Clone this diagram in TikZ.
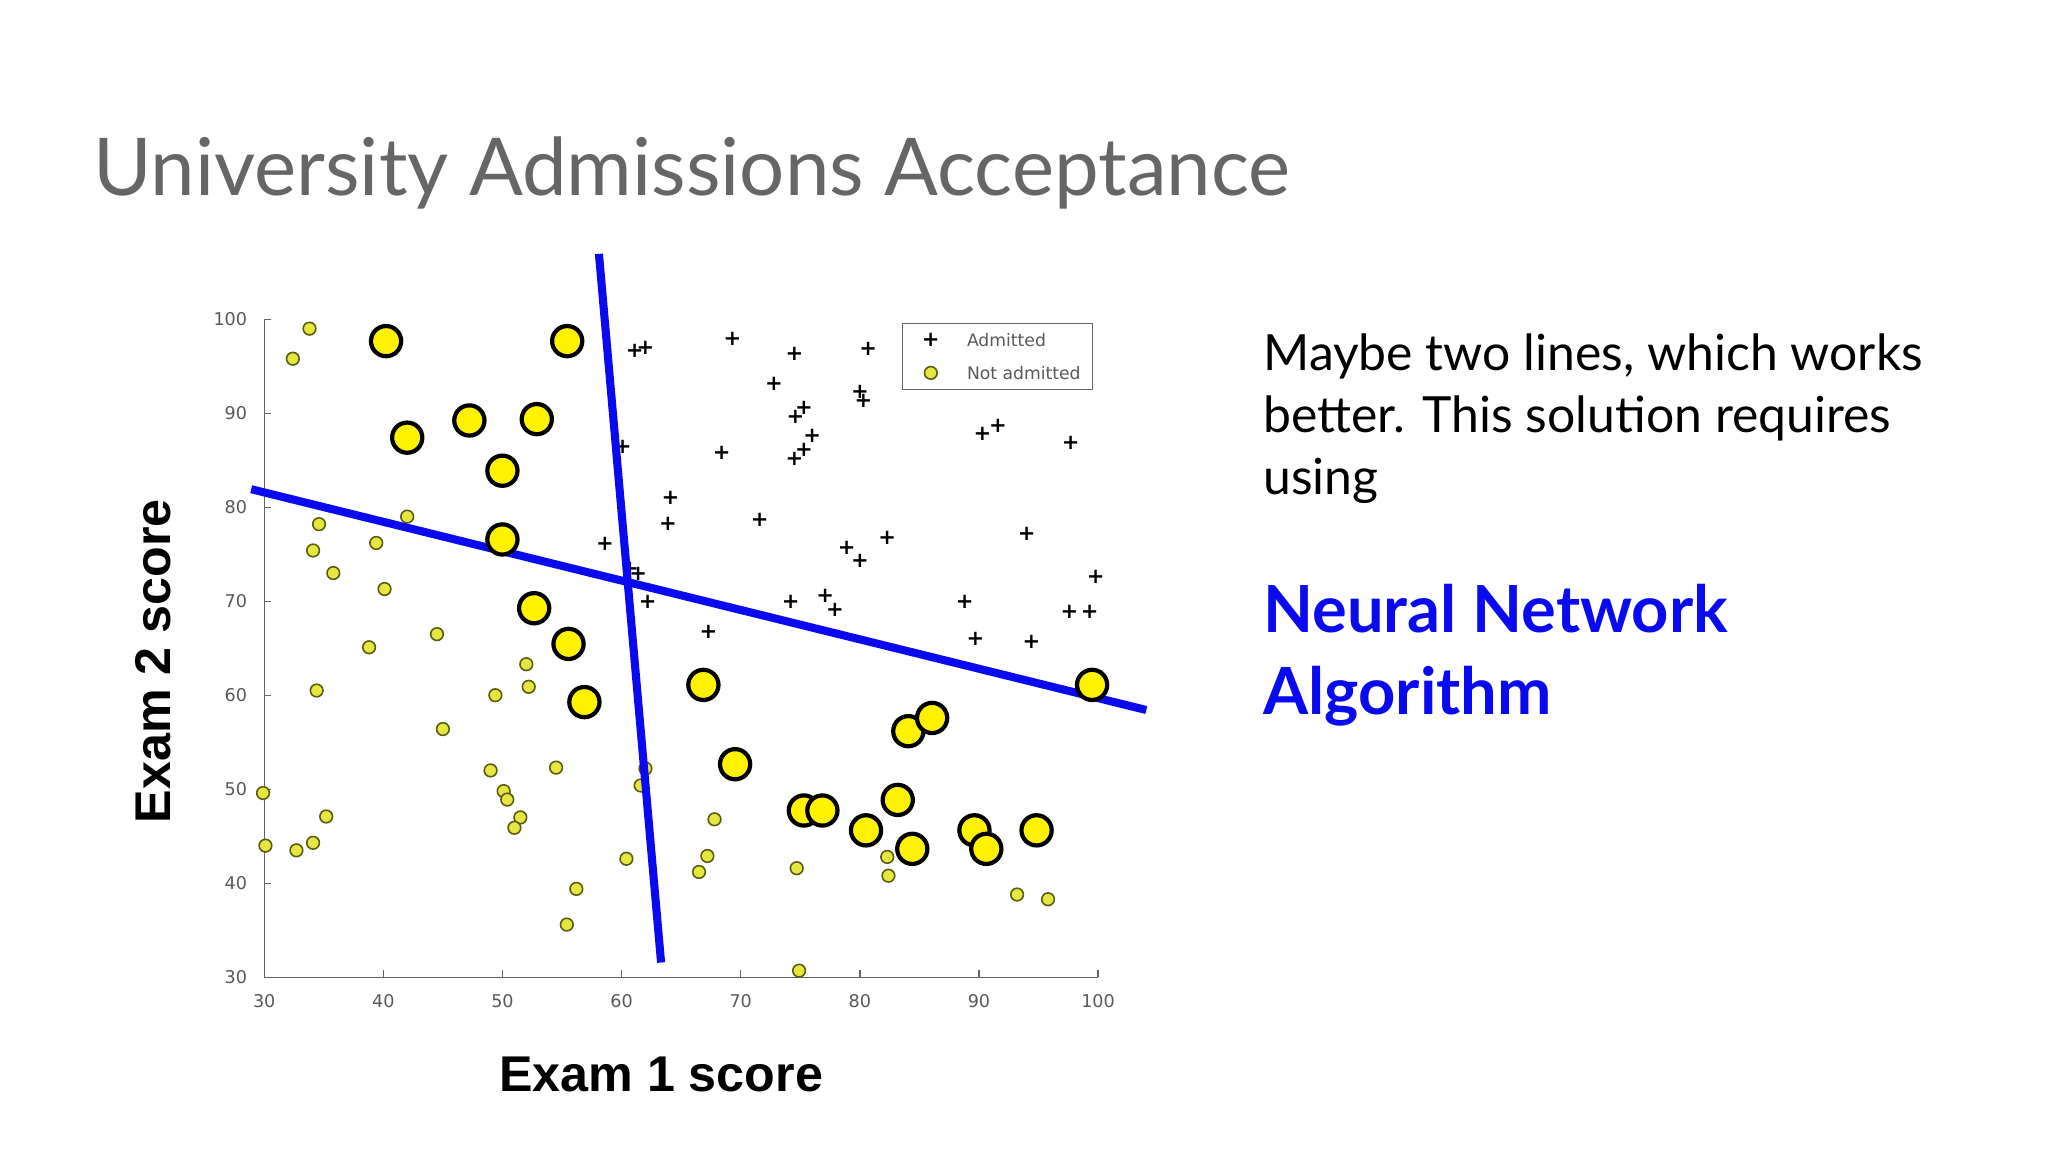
\documentclass[tikz,border=0pt]{standalone}
\usepackage{fontspec}
\setmainfont{Lato}
\newfontfamily\arialf{Liberation Sans}
\newfontfamily\tickf{DejaVu Sans}
\definecolor{lineblue}{HTML}{0A0AF0}
\definecolor{titlegray}{HTML}{666666}
\definecolor{smallyel}{HTML}{E6E640}
\definecolor{smallrim}{HTML}{5A5A10}
\begin{document}
\begin{tikzpicture}[x=0.013222cm,y=-0.013222cm]
\tikzset{
 small/.style={circle,draw=smallrim,fill=smallyel,line width=0.45pt,inner sep=0pt,minimum size=3.6pt},
 big/.style={circle,draw=black,fill=yellow,line width=1.2pt,inner sep=0pt,minimum size=8.6pt},
 plusm/.style={inner sep=0pt,font=\tickf\fontsize{6}{6}\selectfont\bfseries},
 tick/.style={font=\tickf\fontsize{5}{5}\selectfont,text=black!65},
 sep/.style={draw=lineblue,line width=2.3pt}
}
\fill[white] (0,0) rectangle (1549,871.3);
\useasboundingbox (0,0) rectangle (1549,871.3);
\node[anchor=base west,inner sep=0pt,text=titlegray,font=\fontsize{22.7}{26}\selectfont] (title) at (70,148) {University Admissions Acceptance};
% data scope
\begin{scope}[shift={(-70.42,952.4)},x=0.11918cm,y=0.09406cm]
\draw[black!60,line width=0.4pt] (30,100) coordinate (ytop) -- (30,30) coordinate (orig) -- (100,30) coordinate (xr);
\foreach \v in {30,40,...,100}{
 \draw[black!60,line width=0.4pt] (\v,30) -- (\v,30.8);
 \node[tick,anchor=north] (xt\v) at (\v,29.5) {\v};
 \draw[black!60,line width=0.4pt] (30,\v) -- (30.6,\v);
 \node[tick,anchor=east] (yt\v) at (29.6,\v) {\v};
}
\foreach[count=\i] \a/\b in {33.8/99,32.4/95.8,34.6/78.2,34.1/75.4,35.8/73,39.4/76.2,40.1/71.3,42/79,38.8/65.1,44.5/66.5,34.4/60.5,45/56.4,49.4/60,52/63.3,52.2/60.9,49/52,50.1/49.8,50.4/48.9,51.5/47,51/45.9,54.5/52.3,29.9/49.6,35.2/47.1,30.1/44,32.7/43.5,34.1/44.3,56.2/39.4,55.4/35.6,60.4/42.6,62/52.2,61.6/50.4,67.8/46.8,67.2/42.9,66.5/41.2,74.7/41.6,74.9/30.7,82.3/42.8,82.4/40.8,93.2/38.8,95.8/38.3}
 \node[small] (s\i) at (\a,\b) {};
\foreach[count=\i] \a/\b in {69.3/97.9,61.1/96.6,62/96.9,74.5/96.3,80.7/96.8,72.8/93.1,80/92.3,80.3/91.3,75.3/90.6,74.6/89.6,76/87.6,75.3/86.1,74.5/85.1,60.1/86.4,68.4/85.8,90.3/87.8,91.6/88.7,97.7/86.8,64.1/81,63.9/78.2,71.6/78.6,94/77.2,58.6/76.1,78.9/75.7,80/74.3,82.3/76.7,99.8/72.6,60.7/73.4,61.4/72.9,62.2/69.9,74.2/69.9,77.1/70.6,77.9/69.1,88.8/69.9,97.6/68.9,99.3/68.9,67.3/66.7,89.7/66,94.4/65.7}
 \node[plusm] (p\i) at (\a,\b) {+};
\end{scope}
% legend
\node[draw=black!60,line width=0.4pt,fill=white,minimum width=1.904cm,minimum height=0.661cm,anchor=north west,inner sep=0pt] (legend) at (682,244) {};
\node[plusm] (lp) at (704,257) {+};
\node[small] (lc) at (704,282) {};
\node[tick,anchor=west,font=\tickf\fontsize{4.9}{5}\selectfont] (la) at (722,257) {Admitted};
\node[tick,anchor=west,font=\tickf\fontsize{4.9}{5}\selectfont] (lb) at (722,282) {Not admitted};
% separating lines
\coordinate (a1) at (453,192); \coordinate (a2) at (500,728);
\coordinate (b1) at (190,370); \coordinate (b2) at (867,537);
\draw[sep] (a1) -- (a2);
\draw[sep] (b1) -- (b2);
% highlighted points
\foreach[count=\i] \a/\b in {292/258,429/258,308/331,355/318,406/317,380/356,380/408,404/460,430/487,442/531,532/518,556/578,608/613,622/613,655/628,679/605,687/553,705/543,690/642,737/628,746/642,784/628,826/518}
 \node[big] (h\i) at (\a,\b) {};
% axis labels
\node[font=\arialf\bfseries\fontsize{14.3}{16}\selectfont] (xl) at (500,813) {Exam 1 score};
\node[font=\arialf\bfseries\fontsize{14.3}{16}\selectfont,rotate=90] (yl) at (116,500) {Exam 2 score};
% right text
\node[anchor=north west,inner sep=0pt,align=left,font=\fontsize{14.2}{17.7}\selectfont] (desc) at (955,252) {Maybe two lines, which works\\better. This solution requires\\using};
\node[anchor=north west,inner sep=0pt,align=left,text=lineblue,font=\bfseries\fontsize{18.5}{23.4}\selectfont] (nn) at (955,441) {Neural Network\\Algorithm};
\end{tikzpicture}
\end{document}
